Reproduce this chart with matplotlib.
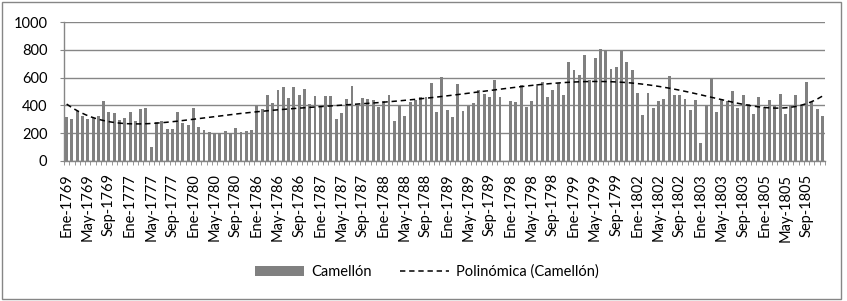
import numpy as np
import matplotlib
matplotlib.use('Agg')
import matplotlib.pyplot as plt
from matplotlib.patches import Rectangle, Patch
from matplotlib.lines import Line2D

years = [1769, 1777, 1780, 1786, 1787, 1788, 1789, 1798, 1799, 1802, 1803, 1805]
months = ['Ene', 'Feb', 'Mar', 'Abr', 'May', 'Jun', 'Jul', 'Ago', 'Sep', 'Oct', 'Nov', 'Dic']

camellon = [
    # 1769
    320, 305, 363, 325, 303, 310, 322, 433, 353, 344, 298, 308,
    # 1777
    351, 286, 373, 382, 101, 284, 291, 231, 228, 351, 274, 262,
    # 1780
    382, 243, 224, 207, 200, 200, 214, 205, 240, 212, 214, 221,
    # 1786
    404, 373, 476, 418, 512, 529, 450, 531, 476, 519, 411, 471,
    # 1787
    397, 469, 469, 305, 346, 445, 541, 404, 452, 445, 440, 392,
    # 1788
    433, 474, 288, 406, 327, 428, 440, 464, 462, 560, 349, 606,
    # 1789
    365, 315, 553, 361, 394, 418, 512, 481, 462, 584, 462, None,
    # 1798
    430, 425, 548, 392, 430, 555, 565, 459, 512, 560, 476, 712,
    # 1799
    656, 618, 762, 584, 743, 808, 796, 661, 675, 788, 709, 656,
    # 1802
    490, 329, 486, 382, 435, 447, 611, 476, 476, 447, 368, 442,
    # 1803
    127, 404, 594, 351, 447, 433, 502, 382, 474, 411, 337, 459,
    # 1805
    392, 440, 404, 481, 339, 399, 476, 399, 570, 423, 373, 325,
]

categories = [f"{m}-{yr}" for yr in years for m in months]

plt.rcParams['font.family'] = ['Lato', 'DejaVu Sans']
GRAY = '#868686'
BAR = '#808080'

W, H = 847, 301
fig = plt.figure(figsize=(W / 100, H / 100), dpi=100)
ax = fig.add_axes([64 / W, 140 / H, 761 / W, 139 / H])

x = np.arange(1, len(categories) + 1)
y = np.array([np.nan if v is None else v for v in camellon], dtype=float)
ax.bar(x, np.nan_to_num(y), width=0.55, color=BAR, zorder=2)

mask = ~np.isnan(y)
poly = np.polynomial.Polynomial.fit(x[mask], y[mask], 6)
xs = np.linspace(1, len(categories), 800)
ax.plot(xs, poly(xs), color='black', lw=1.1, ls=(0, (3.5, 2.5)), zorder=3)

ax.set_xlim(0.5, len(categories) + 0.5)
ax.set_ylim(0, 1000)
ax.set_yticks(range(0, 1001, 200))
ax.yaxis.grid(True, color=GRAY, lw=1)
ax.set_axisbelow(True)
for s in ['top', 'right']:
    ax.spines[s].set_visible(False)
for s in ['left', 'bottom']:
    ax.spines[s].set_color(GRAY)
    ax.spines[s].set_linewidth(1)

ax.set_xticks(x[::4])
ax.set_xticklabels(categories[::4], rotation=90, fontsize=10.5)
ax.set_xticks(np.arange(0.5, len(categories) + 1, 1), minor=True)
ax.tick_params(axis='x', which='major', length=0, pad=9)
ax.tick_params(axis='x', which='minor', length=3, color=GRAY)
ax.tick_params(axis='y', length=3, color=GRAY, pad=9, labelsize=10.5)

handles = [Patch(facecolor=BAR, edgecolor='none'),
           Line2D([0], [0], color='black', lw=1.1, ls=(0, (3.5, 2.5)))]
fig.legend(handles, ['Camellón', 'Polinómica (Camellón)'], loc='center',
           bbox_to_anchor=(427 / W, 29 / H), ncol=2, frameon=False,
           fontsize=10.5, handlelength=3.3, handletextpad=0.5,
           columnspacing=2.0)

fig.add_artist(Rectangle((1.5 / W, 2.5 / H), 839.5 / W, 297 / H,
                         transform=fig.transFigure, fill=False,
                         edgecolor=GRAY, lw=1))

fig.savefig('out.png', dpi=100)
